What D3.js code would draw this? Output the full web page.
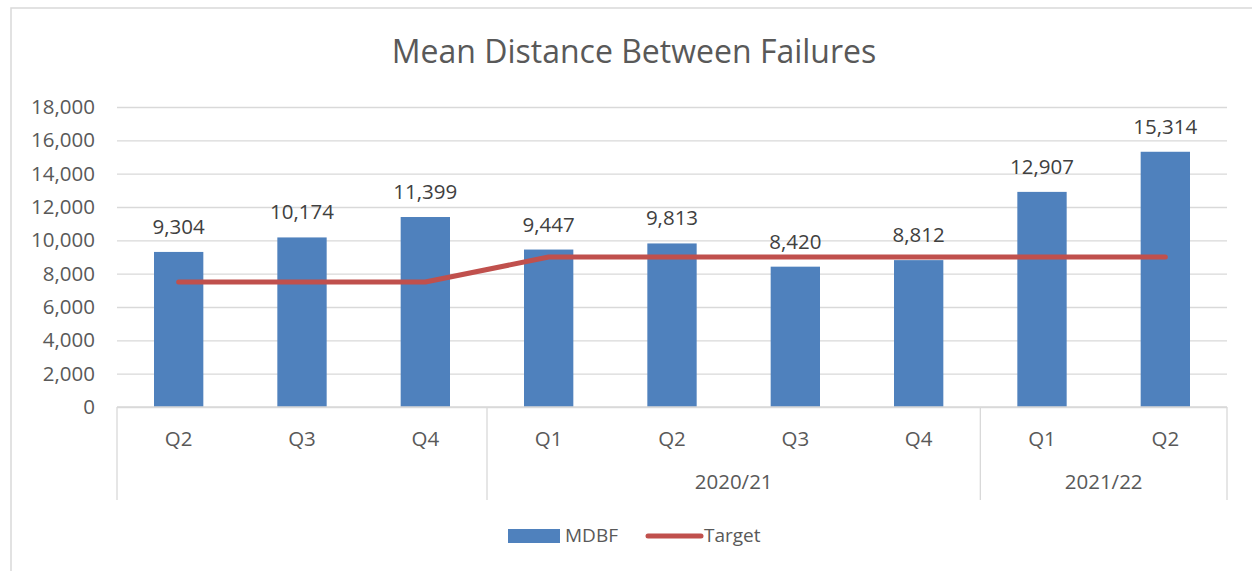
<!DOCTYPE html>
<html>
<head>
<meta charset="utf-8">
<script src="https://cdn.jsdelivr.net/npm/d3@7"></script>
<style>
  html, body { margin: 0; padding: 0; background: #fff; }
  svg { display: block; }
  text { font-family: "Open Sans", Lato, sans-serif; }
</style>
</head>
<body>
<svg id="chart" width="1252" height="571"></svg>
<script>
// ---- data ----
const quarters = ["Q2", "Q3", "Q4", "Q1", "Q2", "Q3", "Q4", "Q1", "Q2"];
const years    = ["", "", "", "2020/21", "2020/21", "2020/21", "2020/21", "2021/22", "2021/22"];
const mdbf     = [9304, 10174, 11399, 9447, 9813, 8420, 8812, 12907, 15314];
const target   = [7500, 7500, 7500, 9000, 9000, 9000, 9000, 9000, 9000];
const yTicks   = [0, 2000, 4000, 6000, 8000, 10000, 12000, 14000, 16000, 18000];
const seriesNames = ["MDBF", "Target"];
const title = "Mean Distance Between Failures";

// ---- layout ----
const W = 1252, H = 571;
const plot = { left: 117, right: 1227, top: 107, bottom: 407 };
const barColor = "#4f81bd", lineColor = "#c0504d";
const gridColor = "#d9d9d9", axisText = "#595959", labelText = "#404040";
const fs = 20.5;

const svg = d3.select("#chart");

// chart border
svg.append("rect")
  .attr("x", 11).attr("y", 8)
  .attr("width", W + 20).attr("height", H + 20)
  .attr("fill", "#fff").attr("stroke", "#d9d9d9").attr("stroke-width", 1.5);

const x = d3.scaleBand()
  .domain(d3.range(quarters.length))
  .range([plot.left, plot.right])
  .paddingInner(0.6).paddingOuter(0.3);

const y = d3.scaleLinear().domain([0, 18000]).range([plot.bottom, plot.top]);

// title
svg.append("text")
  .attr("x", 634).attr("y", 63)
  .attr("text-anchor", "middle")
  .attr("font-size", 32).attr("fill", axisText)
  .text(title);

// gridlines + y axis
const yAxis = d3.axisLeft(y).tickValues(yTicks)
  .tickSize(-(plot.right - plot.left))
  .tickPadding(22)
  .tickFormat(d3.format(","));
const gy = svg.append("g").attr("transform", `translate(${plot.left},0)`).call(yAxis);
gy.select(".domain").remove();
gy.selectAll(".tick line").attr("stroke", gridColor).attr("stroke-width", 1.3);
gy.selectAll(".tick text").attr("font-size", fs).attr("fill", axisText)
  .attr("font-family", "'Open Sans', Lato, sans-serif");

// bars
svg.append("g").selectAll("rect").data(mdbf).join("rect")
  .attr("x", (d, i) => x(i))
  .attr("y", d => y(d))
  .attr("width", x.bandwidth())
  .attr("height", d => y(0) - y(d))
  .attr("fill", barColor);

// data labels
svg.append("g").selectAll("text").data(mdbf).join("text")
  .attr("x", (d, i) => x(i) + x.bandwidth() / 2)
  .attr("y", d => y(d) - 18)
  .attr("text-anchor", "middle")
  .attr("font-size", fs).attr("fill", labelText)
  .text(d => d3.format(",")(d));

// target line
const line = d3.line()
  .x((d, i) => x(i) + x.bandwidth() / 2)
  .y(d => y(d));
svg.append("path").datum(target)
  .attr("d", line)
  .attr("fill", "none").attr("stroke", lineColor)
  .attr("stroke-width", 5).attr("stroke-linecap", "round").attr("stroke-linejoin", "round");

// category axis (multi-level)
const step = x.step();
const cellLeft = i => plot.left + i * step;
const axisG = svg.append("g");
axisG.append("line")
  .attr("x1", plot.left).attr("x2", plot.right)
  .attr("y1", plot.bottom).attr("y2", plot.bottom)
  .attr("stroke", gridColor).attr("stroke-width", 1.3);

axisG.selectAll("text.q").data(quarters).join("text")
  .attr("class", "q")
  .attr("x", (d, i) => x(i) + x.bandwidth() / 2)
  .attr("y", 446)
  .attr("text-anchor", "middle")
  .attr("font-size", fs).attr("fill", axisText)
  .text(d => d);

// group runs of years
const groups = [];
years.forEach((yv, i) => {
  const last = groups[groups.length - 1];
  if (last && last.label === yv) last.end = i;
  else groups.push({ label: yv, start: i, end: i });
});
const sepX = [cellLeft(0)].concat(groups.map(g => cellLeft(g.end + 1)));
axisG.selectAll("line.sep").data(sepX).join("line")
  .attr("class", "sep")
  .attr("x1", d => d).attr("x2", d => d)
  .attr("y1", plot.bottom).attr("y2", 500)
  .attr("stroke", gridColor).attr("stroke-width", 1.3);
axisG.selectAll("text.yr").data(groups).join("text")
  .attr("class", "yr")
  .attr("x", g => (cellLeft(g.start) + cellLeft(g.end + 1)) / 2)
  .attr("y", 489)
  .attr("text-anchor", "middle")
  .attr("font-size", fs).attr("fill", axisText)
  .text(g => g.label);

// legend
const leg = svg.append("g");
leg.append("rect").attr("x", 508).attr("y", 529).attr("width", 52).attr("height", 14).attr("fill", barColor);
leg.append("text").attr("x", 565).attr("y", 542).attr("font-size", 19).attr("fill", axisText).text(seriesNames[0]);
leg.append("line").attr("x1", 648).attr("x2", 701).attr("y1", 536).attr("y2", 536)
  .attr("stroke", lineColor).attr("stroke-width", 5).attr("stroke-linecap", "round");
leg.append("text").attr("x", 704).attr("y", 542).attr("font-size", 19).attr("fill", axisText).text(seriesNames[1]);
</script>
</body>
</html>
